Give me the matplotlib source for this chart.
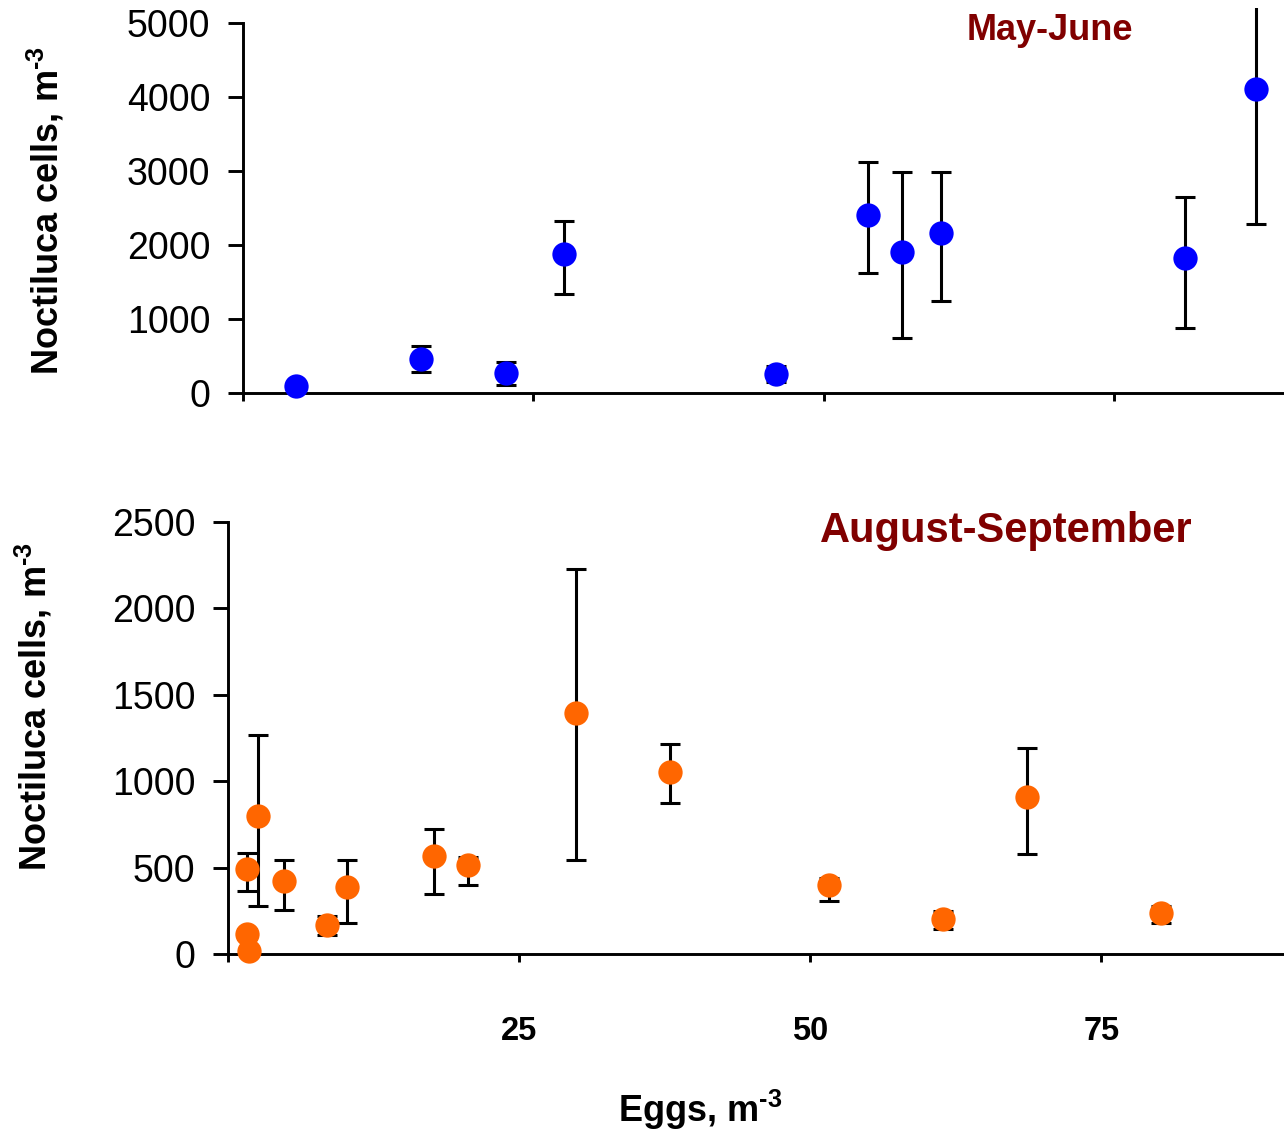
import matplotlib
matplotlib.use("Agg")
import matplotlib.pyplot as plt

plt.rcParams["font.family"] = ["Liberation Sans", "DejaVu Sans"]
plt.rcParams["mathtext.fontset"] = "custom"
plt.rcParams["mathtext.rm"] = "Liberation Sans:bold"
plt.rcParams["mathtext.bf"] = "Liberation Sans:bold"
plt.rcParams["mathtext.it"] = "Liberation Sans:bold"

# ---- May-June ----
mj_eggs = [4.6, 15.3, 22.6, 27.6, 45.9, 53.8, 56.7, 60.1, 81.1, 87.2]
mj_cells = [95, 460, 265, 1880, 255, 2410, 1905, 2165, 1830, 4110]
mj_low = [55, 280, 105, 1335, 150, 1620, 742, 1242, 873, 2280]
mj_high = [135, 640, 420, 2328, 360, 3115, 2985, 2985, 2647, 5940]

# ---- August-September ----
as_eggs = [1.6, 2.6, 1.6, 1.8, 4.8, 8.5, 10.2, 17.7, 20.6, 29.9, 38.0, 51.6, 61.4, 68.6, 80.1]
as_cells = [491, 801, 114, 19, 420, 166, 385, 565, 513, 1397, 1053, 400, 201, 907, 236]
as_low = [366, 275, 85, 0, 255, 110, 182, 346, 400, 546, 871, 308, 143, 580, 178]
as_high = [584, 1269, 145, 40, 544, 220, 544, 726, 563, 2227, 1213, 439, 250, 1194, 279]

x_ticks = [0, 25, 50, 75]
x_tick_labels = ["", "25", "50", "75"]
mj_y_ticks = [0, 1000, 2000, 3000, 4000, 5000]
as_y_ticks = [0, 500, 1000, 1500, 2000, 2500]

W, H = 1284, 1132
fig = plt.figure(figsize=(W / 100, H / 100), dpi=100)

def px_axes(left, right, top, bottom):
    return fig.add_axes([left / W, 1 - bottom / H, (right - left) / W, (bottom - top) / H])

ax1 = px_axes(243, 1284, 8, 393)
ax2 = px_axes(228, 1284, 522, 954)

LW = 2.1

def style(ax, yticks, ymax_spine):
    for s in ("top", "right"):
        ax.spines[s].set_visible(False)
    for s in ("left", "bottom"):
        ax.spines[s].set_linewidth(LW)
    ax.spines["left"].set_bounds(0, ymax_spine)
    ax.set_yticks(yticks)
    ax.set_yticklabels([str(v) for v in yticks], fontsize=27)
    ax.tick_params(axis="y", direction="out", length=10.5, width=LW, pad=13)
    ax.tick_params(axis="x", direction="out", length=5.5, width=LW)
    ax.set_xticks(x_ticks)

def draw(ax, x, y, lo, hi, color):
    yerr = [[v - l for v, l in zip(y, lo)], [h - v for v, h in zip(y, hi)]]
    ax.errorbar(x, y, yerr=yerr, fmt="none", ecolor="black", elinewidth=2.2,
                capsize=7.4, capthick=2.2, zorder=2)
    ax.plot(x, y, "o", color=color, markersize=17.5, markeredgewidth=0,
            zorder=3, clip_on=False)

draw(ax1, mj_eggs, mj_cells, mj_low, mj_high, "#0000FF")
style(ax1, mj_y_ticks, 5000)
ax1.set_xlim(0, 89.6)
ax1.set_ylim(0, 5000 * 385 / 370)
ax1.set_xticklabels([])

draw(ax2, as_eggs, as_cells, as_low, as_high, "#FF6600")
style(ax2, as_y_ticks, 2500)
ax2.set_xlim(0, 90.7)
ax2.set_ylim(0, 2500)
ax2.set_xticklabels(x_tick_labels, fontsize=23.5, fontweight="bold")
ax2.tick_params(axis="x", pad=39)

fig.text(1050 / W, 1 - 40 / H, "May-June", color="#800000", fontsize=26,
         fontweight="bold", ha="center", va="baseline")
fig.text(1006 / W, 1 - 542 / H, "August-September", color="#800000", fontsize=30,
         fontweight="bold", ha="center", va="baseline")

ylab = r"Noctiluca cells, m$^{\text{-3}}$"
fig.text(46 / W, 1 - 210 / H, ylab, rotation=90, fontsize=26, fontweight="bold",
         ha="center", va="center")
fig.text(34 / W, 1 - 706 / H, ylab, rotation=90, fontsize=26, fontweight="bold",
         ha="center", va="center")
fig.text(700 / W, 1 - 1110 / H, r"Eggs, m$^{\text{-3}}$", fontsize=26, fontweight="bold",
         ha="center", va="center")

fig.savefig("out.png", dpi=100)
